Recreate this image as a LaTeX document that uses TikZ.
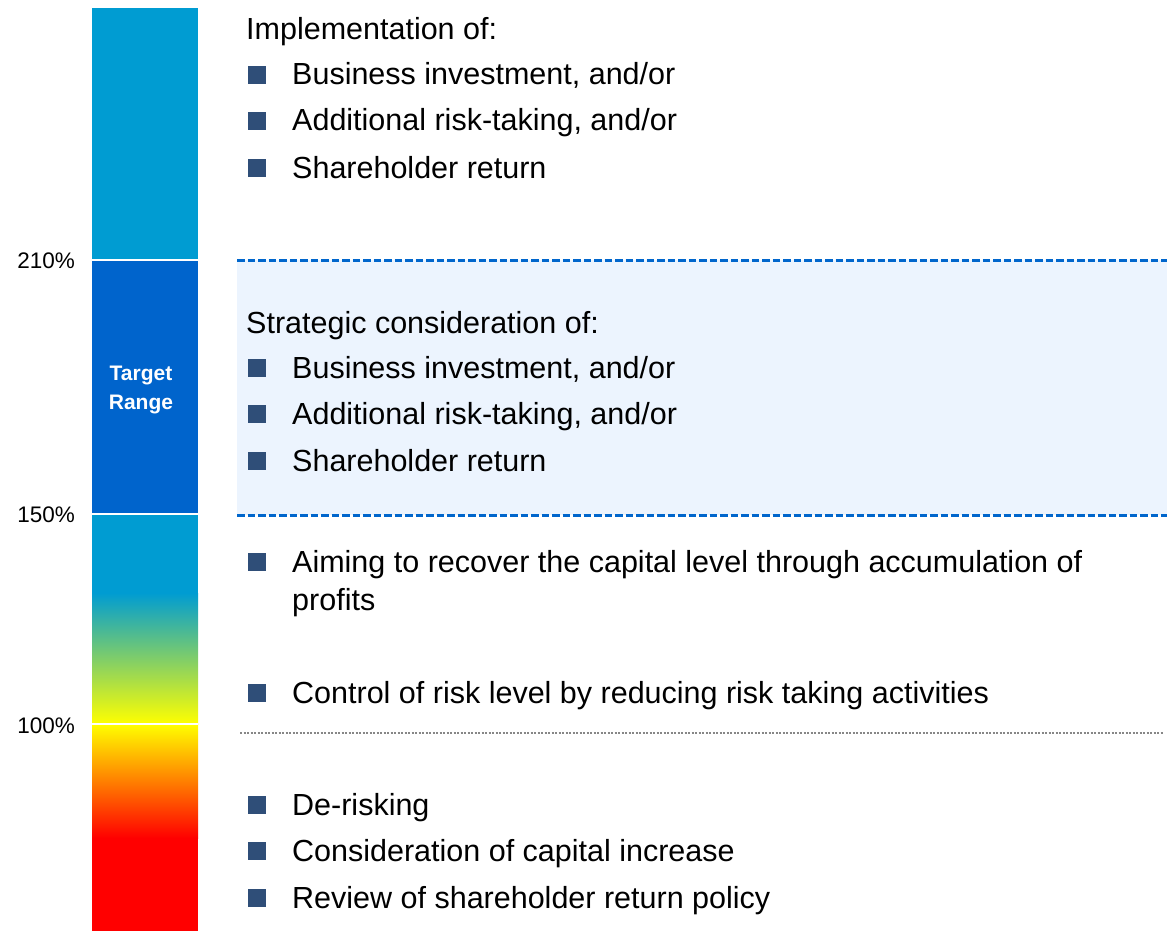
\documentclass[tikz,border=0pt]{standalone}
\usepackage{fontspec}
\setmainfont{Liberation Sans}
\usepackage{xcolor}
\usepackage{tikz}

\definecolor{barblue}{RGB}{0,156,210}
\definecolor{targetblue}{RGB}{0,100,204}
\definecolor{midgreen}{RGB}{135,200,95}
\definecolor{midorange}{RGB}{255,150,0}
\definecolor{bulletblue}{RGB}{47,78,120}
\definecolor{bandfill}{RGB}{236,244,254}
\definecolor{bandline}{RGB}{0,102,204}
\definecolor{dotgray}{RGB}{135,135,135}

\begin{document}
\begin{tikzpicture}[x=1pt, y=-1pt,
		pct/.style={anchor=base east, inner sep=0pt, font=\fontsize{22.5}{26}\selectfont},
		head/.style={anchor=base west, inner sep=0pt, font=\fontsize{30.5}{36}\selectfont},
		itemtext/.style={head},
		sq/.style={fill=bulletblue, minimum size=18.5pt, inner sep=0pt},
		bandedge/.style={bandline, line width=3pt, dash pattern=on 7.5pt off 3pt},
	]
		\useasboundingbox (0,0) rectangle (1167,931);
		% THE BAR
		\fill[barblue] (92,8) rectangle (198,260);
		\fill[targetblue] (92,260) rectangle (198,514);
		\fill[barblue] (92,514) rectangle (198,593);
		\shade[top color=barblue, middle color=midgreen, bottom color=yellow] (92,593) rectangle (198,724);
		\shade[top color=yellow, middle color=midorange, bottom color=red] (92,724) rectangle (198,838);
		\fill[red] (92,838) rectangle (198,931);
		\draw[white, line width=2.5pt] (92,260) -- (198,260);
		\draw[white, line width=2.5pt] (92,514) -- (198,514);
		\draw[white, line width=2.5pt] (92,724) -- (198,724);
		\node[text=white, align=center, font=\bfseries\fontsize{21}{29}\selectfont] (target) at (141,390) {Target\\Range};
		\node[pct] (p210) at (75,268) {210\%};
		\node[pct] (p150) at (75,522) {150\%};
		\node[pct] (p100) at (75,733) {100\%};
		% TARGET BAND
		\fill[bandfill] (237,260) rectangle (1167,515);
		\draw[bandedge] (237,260) -- (1167,260);
		\draw[bandedge] (237,515) -- (1167,515);
		\draw[dotgray, line width=2.5pt, dash pattern=on 2.2pt off 1.3pt] (240,733) -- (1163,733);
		% ABOVE 210%
		\node[head] (imp) at (246,40) {Implementation of:};
		\node[sq] (imp1sq) at (257,75) {};
		\node[itemtext] (imp1) at (292,85) {Business investment, and/or};
		\node[sq] (imp2sq) at (257,121) {};
		\node[itemtext] (imp2) at (292,131) {Additional risk-taking, and/or};
		\node[sq] (imp3sq) at (257,168) {};
		\node[itemtext] (imp3) at (292,178) {Shareholder return};
		% 150% - 210%
		\node[head] (strat) at (246,333) {Strategic consideration of:};
		\node[sq] (strat1sq) at (257,368) {};
		\node[itemtext] (strat1) at (292,378) {Business investment, and/or};
		\node[sq] (strat2sq) at (257,414) {};
		\node[itemtext] (strat2) at (292,424) {Additional risk-taking, and/or};
		\node[sq] (strat3sq) at (257,461) {};
		\node[itemtext] (strat3) at (292,471) {Shareholder return};
		% 100% - 150%
		\node[sq] (rec1sq) at (257,562) {};
		\node[itemtext] (rec1) at (292,572) {Aiming to recover the capital level through accumulation of};
		\node[itemtext] (rec1b) at (292,610) {profits};
		\node[sq] (rec2sq) at (257,693) {};
		\node[itemtext] (rec2) at (292,703) {Control of risk level by reducing risk taking activities};
		% BELOW 100%
		\node[sq] (low1sq) at (257,805) {};
		\node[itemtext] (low1) at (292,815) {De-risking};
		\node[sq] (low2sq) at (257,851) {};
		\node[itemtext] (low2) at (292,861) {Consideration of capital increase};
		\node[sq] (low3sq) at (257,898) {};
		\node[itemtext] (low3) at (292,908) {Review of shareholder return policy};
	\end{tikzpicture}
\end{document}
